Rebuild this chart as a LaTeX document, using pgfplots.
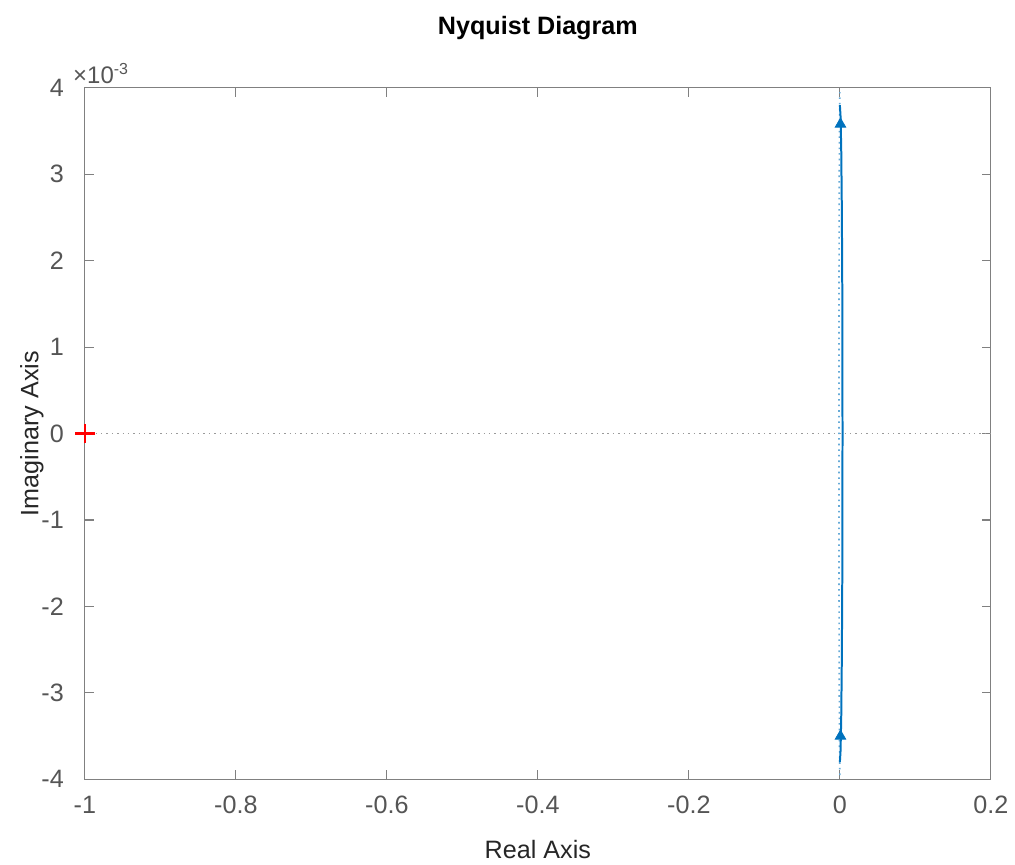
\documentclass[border=0pt]{standalone}
\usepackage{fontspec}
\setmainfont{Liberation Sans}
\usepackage{pgfplots}
\pgfplotsset{compat=1.18}
\definecolor{mlblue}{RGB}{0,114,189}
\definecolor{mlgray}{RGB}{85,85,85}
\definecolor{mlaxis}{RGB}{128,128,128}

\begin{document}
\begin{tikzpicture}
\begin{axis}[
    name=ax,
    set layers=standard,
    scale only axis,
    width=454pt, height=346.5pt,
    xmin=-1, xmax=0.2,
    ymin=-0.004, ymax=0.004,
    xtick={-1,-0.8,-0.6,-0.4,-0.2,0,0.2},
    ytick={-0.004,-0.003,-0.002,-0.001,0,0.001,0.002,0.003,0.004},
    scaled y ticks=base 10:3,
    ytick scale label code/.code={×10\textsuperscript{#1}},
    every y tick scale label/.style={at={(rel axis cs:0,1)}, anchor=south west,
        xshift=0pt, yshift=1pt, inner sep=1pt, font=\fontsize{12}{13}\selectfont, text=mlgray},
    /pgf/number format/assume math mode=true,
    xticklabel style={/pgf/number format/fixed, /pgf/number format/precision=1, yshift=-5pt},
    yticklabel style={xshift=-7pt},
    tick label style={font=\fontsize{12.6}{14}\selectfont, text=mlgray},
    tick align=inside,
    major tick length=4.5pt,
    axis line style={mlaxis, line width=0.6pt},
    every tick/.style={mlaxis, line width=0.6pt},
    xlabel={Real Axis},
    ylabel={Imaginary Axis},
    label style={font=\fontsize{12.6}{14}\selectfont, text=black!85},
    xlabel style={yshift=-6pt},
    ylabel style={yshift=-8pt},
    title={\textbf{Nyquist Diagram}},
    title style={font=\fontsize{12.6}{14}\selectfont, yshift=14.5pt},
    clip=false,
]

% zero line
\addplot[mlaxis!80, dotted, line width=0.7pt] coordinates {(-1,0) (0.2,0)};

% negative frequencies (dotted)
\addplot[mlblue!60, dotted, line width=0.8pt] coordinates {
    (0,-0.00395) (-0.0004,-0.0037) (-0.0008,-0.0030) (-0.0011,-0.0019)
    (-0.0012,0) (-0.0011,0.0019) (-0.0008,0.0030) (-0.0004,0.0037) (0,0.00395)
};

% positive frequencies (solid)
\addplot[mlblue, line width=1pt] coordinates {
    (0,-0.0038) (0.0009,-0.00367) (0.0018,-0.00329) (0.0025,-0.00269)
    (0.0031,-0.0019) (0.0034,-0.00098) (0.0035,0) (0.0034,0.00098)
    (0.0031,0.0019) (0.0025,0.00269) (0.0018,0.00329) (0.0009,0.00367)
    (0,0.0038)
};

% direction arrows
\addplot[only marks, mark=triangle*, mark size=3pt, color=mlblue] coordinates {
    (0.0008,0.00358) (0.0008,-0.00350)
};

% critical point (-1, 0) drawn as a red plus
\addplot[on layer=axis foreground, color=red, line width=1.1pt] coordinates {(-1.013,0.0000001) (-0.987,0.0000001)};
\addplot[on layer=axis foreground, color=red, line width=0.9pt] coordinates {(-1,-0.000110) (-1,0.000110)};

\end{axis}
\path (ax.south west) ++(-42.5pt,-41pt) rectangle ++(507.5pt,431.5pt);
\end{tikzpicture}
\end{document}
